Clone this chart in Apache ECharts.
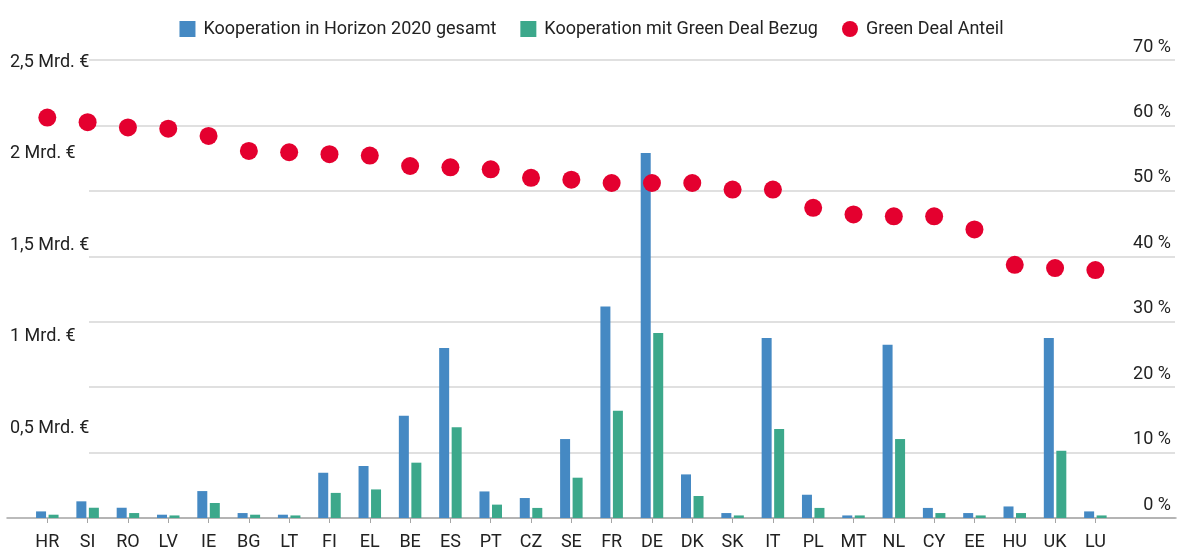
<!DOCTYPE html>
<html>
<head>
<meta charset="utf-8">
<script src="https://cdn.jsdelivr.net/npm/echarts@6/dist/echarts.min.js"></script>
<style>
  html, body { margin: 0; padding: 0; background: #fff; }
  #main { width: 1183px; height: 552px; }
</style>
</head>
<body>
<div id="main"></div>
<script>
var countries = ['HR','SI','RO','LV','IE','BG','LT','FI','EL','BE','ES','PT','CZ','SE','FR','DE','DK','SK','IT','PL','MT','NL','CY','EE','HU','UK','LU'];
// Mrd. Euro
var total = [0.036,0.091,0.056,0.018,0.147,0.027,0.018,0.247,0.284,0.558,0.928,0.145,0.109,0.431,1.155,1.992,0.238,0.027,0.983,0.127,0.014,0.946,0.055,0.027,0.063,0.983,0.036];
var greenDeal = [0.018,0.056,0.027,0.014,0.082,0.018,0.014,0.137,0.156,0.302,0.495,0.073,0.055,0.22,0.586,1.01,0.12,0.014,0.486,0.055,0.014,0.431,0.027,0.014,0.027,0.367,0.014];
// Prozent
var share = [61.2,60.5,59.7,59.5,58.4,56.1,55.9,55.6,55.4,53.8,53.6,53.3,52.0,51.7,51.2,51.2,51.2,50.2,50.2,47.4,46.4,46.1,46.1,44.1,38.7,38.2,37.9];
var leftTicks = [0, 0.5, 1, 1.5, 2, 2.5];

// one empty slot before and two after, like in the original layout
function pad(arr, v) { return [v].concat(arr, [v, v]); }

var font = 'Roboto, "Noto Sans", sans-serif';
var textColor = '#222';

var option = {
    animation: false,
    legend: {
        top: 15,
        left: 'center',
        itemWidth: 16,
        itemHeight: 16,
        itemGap: 24,
        textStyle: { fontFamily: font, fontSize: 18, color: textColor, padding: [0, 0, 0, 3] },
        data: [
            { name: 'Kooperation in Horizon 2020 gesamt', icon: 'rect' },
            { name: 'Kooperation mit Green Deal Bezug', icon: 'rect' },
            { name: 'Green Deal Anteil', icon: 'circle' }
        ]
    },
    grid: [
        { left: 7, right: 7, top: 60, bottom: 34 },
        { left: 89, right: 8, top: 60, bottom: 34 }
    ],
    xAxis: [{
        type: 'category',
        gridIndex: 0,
        boundaryGap: false,
        data: pad(countries, ''),
        axisLine: { lineStyle: { color: '#a5a5a5', width: 1.5 } },
        axisTick: {
            length: 5,
            lineStyle: { color: '#a5a5a5' },
            interval: function (i, v) { return v !== ''; }
        },
        axisLabel: { interval: 0, margin: 15, fontFamily: font, fontSize: 18, color: textColor }
    }, {
        type: 'category',
        gridIndex: 1,
        show: false,
        data: countries
    }],
    yAxis: [{
        type: 'value',
        gridIndex: 0,
        min: leftTicks[0],
        max: leftTicks[leftTicks.length - 1],
        interval: 0.5,
        splitLine: { show: false },
        axisLine: { show: false },
        axisTick: { show: false },
        axisLabel: {
            inside: true,
            margin: 3,
            verticalAlign: 'top',
            lineHeight: 4,
            fontFamily: font,
            fontSize: 18,
            color: textColor,
            formatter: function (v) {
                if (v === 0) return '';
                return String(v).replace('.', ',') + ' Mrd. €';
            }
        }
    }, {
        type: 'value',
        gridIndex: 0,
        min: 0,
        max: 70,
        show: false
    }, {
        type: 'value',
        gridIndex: 1,
        position: 'right',
        min: 0,
        max: 70,
        interval: 10,
        splitLine: { lineStyle: { color: '#d6d6d6', width: 1.5 } },
        axisLine: { show: false },
        axisTick: { show: false },
        axisLabel: {
            inside: true,
            margin: 4,
            verticalAlign: 'bottom',
            padding: [0, 0, 4, 0],
            fontFamily: font,
            fontSize: 18,
            color: textColor,
            formatter: '{value} %'
        }
    }],
    series: [{
        name: 'Kooperation in Horizon 2020 gesamt',
        type: 'bar',
        xAxisIndex: 0,
        yAxisIndex: 0,
        barWidth: 10,
        barGap: '25%',
        itemStyle: { color: '#4589c3' },
        data: pad(total, null)
    }, {
        name: 'Kooperation mit Green Deal Bezug',
        type: 'bar',
        xAxisIndex: 0,
        yAxisIndex: 0,
        barWidth: 10,
        itemStyle: { color: '#3ca88b' },
        data: pad(greenDeal, null)
    }, {
        name: 'Green Deal Anteil',
        type: 'scatter',
        xAxisIndex: 0,
        yAxisIndex: 1,
        symbol: 'circle',
        symbolSize: 18,
        z: 5,
        itemStyle: { color: '#e4002f', opacity: 1 },
        data: pad(share, null)
    }]
};

var myChart = echarts.init(document.getElementById('main'));
myChart.setOption(option);
</script>
</body>
</html>
